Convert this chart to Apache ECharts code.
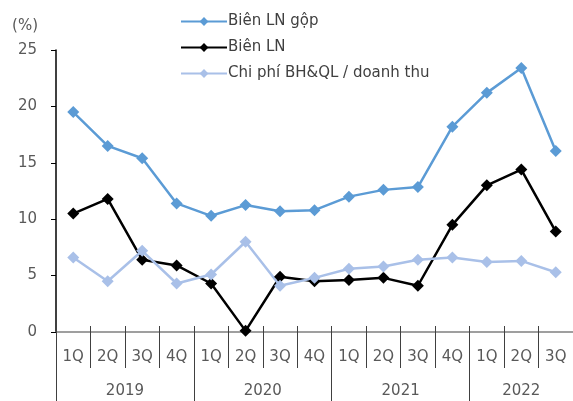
<!DOCTYPE html>
<html>
<head>
<meta charset="utf-8">
<script src="https://cdn.jsdelivr.net/npm/echarts@6/dist/echarts.min.js"></script>
<style>
  html, body { margin: 0; padding: 0; background: #fff; }
  #chart { width: 573px; height: 401px; }
</style>
</head>
<body>
<div id="chart"></div>
<script>
// Quarterly margins, 1Q2019 – 3Q2022 (%)
const quarters = ['1Q','2Q','3Q','4Q','1Q','2Q','3Q','4Q','1Q','2Q','3Q','4Q','1Q','2Q','3Q'];
const years = ['2019', '2020', '2021', '2022'];
const quartersPerYear = [4, 4, 4, 3];

const grossMargin = [19.5, 16.5, 15.4, 11.4, 10.3, 11.25, 10.7, 10.8, 12.0, 12.6, 12.85, 18.2, 21.2, 23.4, 16.05];
const netMargin   = [10.5, 11.8, 6.4, 5.9, 4.3, 0.1, 4.9, 4.5, 4.6, 4.8, 4.1, 9.5, 13.0, 14.4, 8.9];
const sgaRatio    = [6.6, 4.5, 7.2, 4.3, 5.1, 8.0, 4.1, 4.8, 5.6, 5.8, 6.4, 6.6, 6.2, 6.3, 5.3];

const seriesNames = ['Biên LN gộp', 'Biên LN', 'Chi phí BH&QL / doanh thu'];
const yTicks = [0, 5, 10, 15, 20, 25];

// Year group boundaries and centres on the quarter index scale
const yearBounds = [-0.5];
const yearCentres = [];
quartersPerYear.forEach(n => {
  const start = yearBounds[yearBounds.length - 1];
  yearCentres.push(start + n / 2);
  yearBounds.push(start + n);
});

const FONT = 'DejaVu Sans';
const TXT = '#595959';

const chart = echarts.init(document.getElementById('chart'), null, { renderer: 'canvas' });

function lineSeries(name, data, color) {
  return {
    name, type: 'line', data,
    xAxisIndex: 0,
    symbol: 'diamond', symbolSize: 12,
    lineStyle: { color, width: 2.5 },
    itemStyle: { color },
    emphasis: { disabled: true },
    animation: false,
    z: 3
  };
}

chart.setOption({
  animation: false,
  textStyle: { fontFamily: FONT },
  grid: { left: 56, right: 0, top: 50, bottom: 69, containLabel: false },
  legend: {
    orient: 'vertical', left: 175, top: 9,
    itemWidth: 46, itemHeight: 11, itemGap: 11,
    data: seriesNames,
    textStyle: { fontFamily: FONT, fontSize: 15, color: '#404040', padding: [0, 0, 0, -4] }
  },
  xAxis: [
    {
      type: 'category', data: quarters, position: 'bottom',
      boundaryGap: true,
      axisLine: { lineStyle: { color: '#808080', width: 1.5 } },
      axisTick: { show: true, interval: 0, length: 36, lineStyle: { color: '#404040', width: 1 } },
      axisLabel: { interval: 0, margin: 18, fontSize: 15, color: TXT, fontFamily: FONT }
    },
    {
      // short marks poking above the baseline between quarters
      type: 'category', data: quarters, position: 'bottom',
      boundaryGap: true,
      axisLine: { show: false },
      axisTick: { show: true, inside: true, interval: 0, length: 6, lineStyle: { color: '#404040', width: 1 } },
      axisLabel: { show: false }
    },
    {
      // year grouping row
      type: 'value', position: 'bottom',
      min: -0.5, max: quarters.length - 0.5,
      axisLine: { show: false },
      splitLine: { show: false },
      axisTick: { show: true, length: 72, customValues: yearBounds, lineStyle: { color: '#404040', width: 1 } },
      axisLabel: {
        margin: 52, fontSize: 15, color: TXT, fontFamily: FONT,
        customValues: yearCentres,
        formatter: v => years[yearCentres.indexOf(v)] || ''
      }
    }
  ],
  yAxis: {
    type: 'value', min: 0, max: 25, interval: 5,
    name: '(%)', nameLocation: 'end', nameGap: 16,
    nameTextStyle: { fontSize: 15, color: TXT, fontFamily: FONT, align: 'right', padding: [0, 18, 0, 0] },
    axisLine: { show: true, onZero: false, lineStyle: { color: '#000', width: 1.5 } },
    axisTick: { show: true, length: 5, lineStyle: { color: '#000' } },
    splitLine: { show: false },
    axisLabel: {
      margin: 19, fontSize: 15, color: TXT, fontFamily: FONT,
      customValues: yTicks
    }
  },
  series: [
    lineSeries(seriesNames[0], grossMargin, '#5B9BD5'),
    lineSeries(seriesNames[1], netMargin, '#000000'),
    lineSeries(seriesNames[2], sgaRatio, '#A9C0E8')
  ]
});
</script>
</body>
</html>
